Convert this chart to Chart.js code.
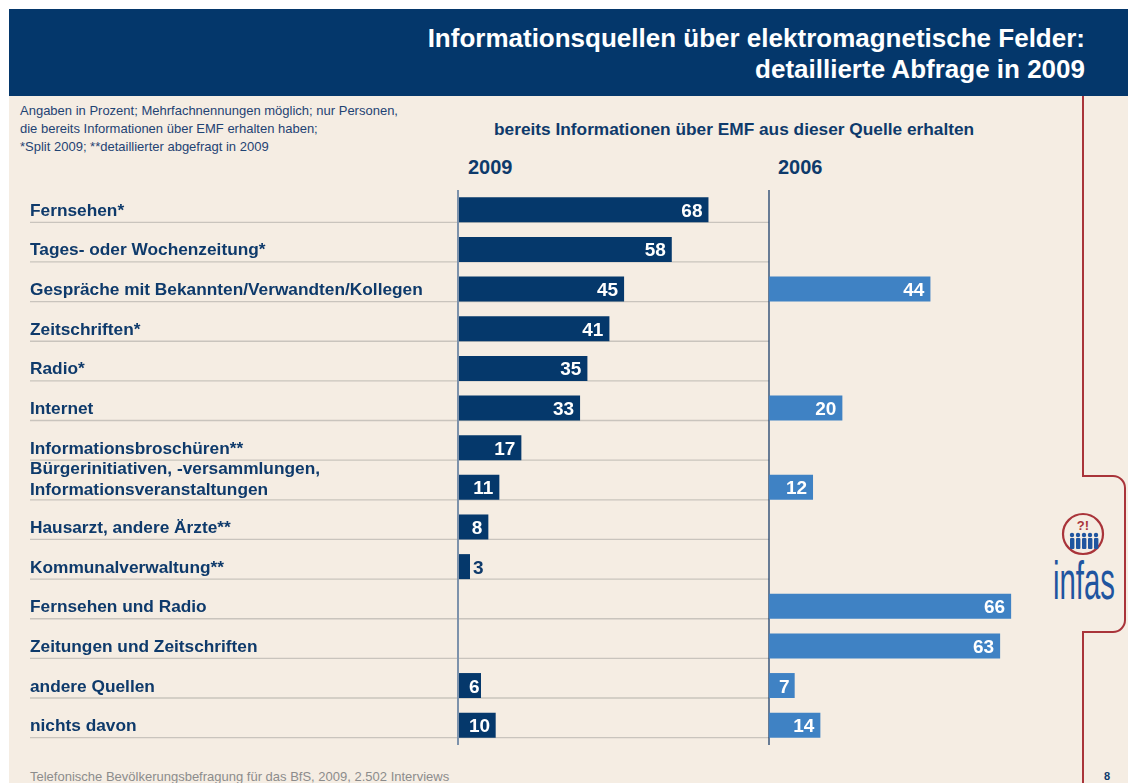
<!DOCTYPE html>
<html lang="de">
<head>
<meta charset="utf-8">
<script src="https://cdn.jsdelivr.net/npm/chart.js@4.4.1/dist/chart.umd.min.js"></script>
<style>
  html, body { margin: 0; padding: 0; background: #fff; }
  #page { position: relative; width: 1128px; height: 783px; overflow: hidden; font-family: "Liberation Sans", Arial, sans-serif; }
  #deco, #chart { position: absolute; left: 0; top: 0; }
</style>
</head>
<body>
<div id="page">
  <svg id="deco" width="1128" height="783" font-family="Liberation Sans, Arial, sans-serif">
    <rect x="9" y="9" width="1119" height="774" fill="#f5ede3"/>
    <rect x="9" y="9" width="1119" height="87" fill="#04376b"/>
    <text x="1085" y="47" text-anchor="end" font-size="26" font-weight="bold" fill="#fff">Informationsquellen über elektromagnetische Felder:</text>
    <text x="1085" y="78" text-anchor="end" font-size="26" font-weight="bold" fill="#fff">detaillierte Abfrage in 2009</text>

    <g font-size="13" fill="#1f4373">
      <text x="20" y="115">Angaben in Prozent; Mehrfachnennungen möglich; nur Personen,</text>
      <text x="20" y="133">die bereits Informationen über EMF erhalten haben;</text>
      <text x="20" y="151">*Split 2009; **detaillierter abgefragt in 2009</text>
    </g>
    <text x="494" y="135" font-size="17.3" font-weight="bold" fill="#0e3a6b">bereits Informationen über EMF aus dieser Quelle erhalten</text>
    <text x="468" y="174" font-size="20" font-weight="bold" fill="#0e3a6b">2009</text>
    <text x="778" y="174" font-size="20" font-weight="bold" fill="#0e3a6b">2006</text>

    <text x="30" y="781" font-size="13" fill="#8c8c8c">Telefonische Bevölkerungsbefragung für das BfS, 2009, 2.502 Interviews</text>
    <text x="1104" y="780" font-size="11" font-weight="bold" fill="#0e3a6b">8</text>

    <!-- bracket and logo -->
    <path d="M1083 96 V476 H1113 A12 12 0 0 1 1125 488 V620 A12 12 0 0 1 1113 632 H1083 V783" fill="none" stroke="#a9343a" stroke-width="2"/>
    <circle cx="1083" cy="534" r="20" fill="none" stroke="#a9343a" stroke-width="2.2"/>
    <text x="1083" y="530" text-anchor="middle" font-size="13" font-weight="bold" fill="#a9343a">?!</text>
    <g fill="#1f55a0">
      <circle cx="1072" cy="535" r="2.2"/><rect x="1070" y="538" width="4.4" height="11" rx="1"/>
      <circle cx="1078" cy="535" r="2.2"/><rect x="1076" y="538" width="4.4" height="11" rx="1"/>
      <circle cx="1084" cy="535" r="2.2"/><rect x="1082" y="538" width="4.4" height="11" rx="1"/>
      <circle cx="1090" cy="535" r="2.2"/><rect x="1088" y="538" width="4.4" height="11" rx="1"/>
      <circle cx="1096" cy="535" r="2.2"/><rect x="1094" y="538" width="4.4" height="11" rx="1"/>
    </g>
    <text x="1053" y="0" transform="translate(0 599) scale(1 1.6)" font-size="34" font-family="Liberation Sans Narrow, Liberation Sans, sans-serif" fill="#1f55a0" textLength="62" lengthAdjust="spacingAndGlyphs">infas</text>
  </svg>
  <canvas id="chart" width="1128" height="783"></canvas>
</div>
<script>
const categories = [
  'Fernsehen*',
  'Tages- oder Wochenzeitung*',
  'Gespräche mit Bekannten/Verwandten/Kollegen',
  'Zeitschriften*',
  'Radio*',
  'Internet',
  'Informationsbroschüren**',
  ['Bürgerinitiativen, -versammlungen,', 'Informationsveranstaltungen'],
  'Hausarzt, andere Ärzte**',
  'Kommunalverwaltung**',
  'Fernsehen und Radio',
  'Zeitungen und Zeitschriften',
  'andere Quellen',
  'nichts davon'
];
const values2009 = [68, 58, 45, 41, 35, 33, 17, 11, 8, 3, null, null, 6, 10];
const values2006 = [null, null, 44, null, null, 20, null, 12, null, null, 66, 63, 7, 14];

const NAVY = '#05386b';
const LIGHT = '#3f82c4';
const TEXT = '#0e3a6b';
const FONT = '"Liberation Sans", Arial, sans-serif';
const AXIS_MAX = 84.5; // same scale for both year panels

const rowPlugin = {
  id: 'rows',
  beforeDatasetsDraw(chart) {
    const { ctx, chartArea, scales: { y, x09, x06 } } = chart;
    const half = (y.getPixelForValue(1) - y.getPixelForValue(0)) * 0.63 / 2;
    ctx.save();
    // underline per row
    ctx.strokeStyle = '#c9c4bd';
    ctx.lineWidth = 1.3;
    categories.forEach((c, i) => {
      const yy = y.getPixelForValue(i) + half;
      ctx.beginPath();
      ctx.moveTo(30, yy);
      ctx.lineTo(x06.getPixelForValue(0), yy);
      ctx.stroke();
    });
    // category labels
    ctx.fillStyle = TEXT;
    ctx.font = 'bold 17.3px ' + FONT;
    ctx.textAlign = 'left';
    ctx.textBaseline = 'alphabetic';
    categories.forEach((c, i) => {
      const lines = Array.isArray(c) ? c : [c];
      const cy = y.getPixelForValue(i) + (lines.length > 1 ? 8 : 6);
      lines.forEach((t, k) => ctx.fillText(t, 30, cy - (lines.length - 1 - k) * 21));
    });
    // panel base lines
    ctx.strokeStyle = '#7d92ab';
    ctx.lineWidth = 2;
    ctx.beginPath();
    ctx.moveTo(x09.getPixelForValue(0) - 1, chartArea.top);
    ctx.lineTo(x09.getPixelForValue(0) - 1, chartArea.bottom);
    ctx.stroke();
    ctx.strokeStyle = '#1b3e6b';
    ctx.lineWidth = 1.3;
    ctx.beginPath();
    ctx.moveTo(x06.getPixelForValue(0), chartArea.top);
    ctx.lineTo(x06.getPixelForValue(0), chartArea.bottom);
    ctx.stroke();
    ctx.restore();
  },
  afterDatasetsDraw(chart) {
    const { ctx } = chart;
    ctx.save();
    ctx.font = 'bold 19px ' + FONT;
    ctx.textAlign = 'left';
    ctx.textBaseline = 'alphabetic';
    chart.data.datasets.forEach((ds, di) => {
      chart.getDatasetMeta(di).data.forEach((bar, i) => {
        const v = ds.data[i];
        if (v == null) return;
        const txt = String(v);
        const w = ctx.measureText(txt).width;
        const yy = bar.y + 7;
        if (bar.x - bar.base < w + 8) {
          ctx.fillStyle = TEXT;
          ctx.fillText(txt, bar.x + 3, yy);
        } else {
          ctx.fillStyle = '#fff';
          ctx.fillText(txt, Math.max(bar.x - 6 - w, bar.base + 10), yy);
        }
      });
    });
    ctx.restore();
  }
};

const hiddenAxis = {
  type: 'linear',
  position: 'bottom',
  stack: 'years',
  stackWeight: 1,
  min: 0,
  max: AXIS_MAX,
  ticks: { display: false },
  grid: { display: false, drawTicks: false },
  border: { display: false }
};

const ctx = document.getElementById('chart').getContext('2d');
new Chart(ctx, {
  type: 'bar',
  data: {
    labels: categories,
    datasets: [
      { label: '2009', data: values2009, xAxisID: 'x09', backgroundColor: NAVY, grouped: false, barPercentage: 0.63, categoryPercentage: 1 },
      { label: '2006', data: values2006, xAxisID: 'x06', backgroundColor: LIGHT, grouped: false, barPercentage: 0.63, categoryPercentage: 1 }
    ]
  },
  options: {
    indexAxis: 'y',
    responsive: false,
    animation: false,
    layout: { padding: { left: 459, right: 49, top: 190, bottom: 38 } },
    plugins: { legend: { display: false }, tooltip: { enabled: false } },
    scales: {
      y: { type: 'category', display: false },
      x09: hiddenAxis,
      x06: { ...hiddenAxis }
    }
  },
  plugins: [rowPlugin]
});
</script>
</body>
</html>
